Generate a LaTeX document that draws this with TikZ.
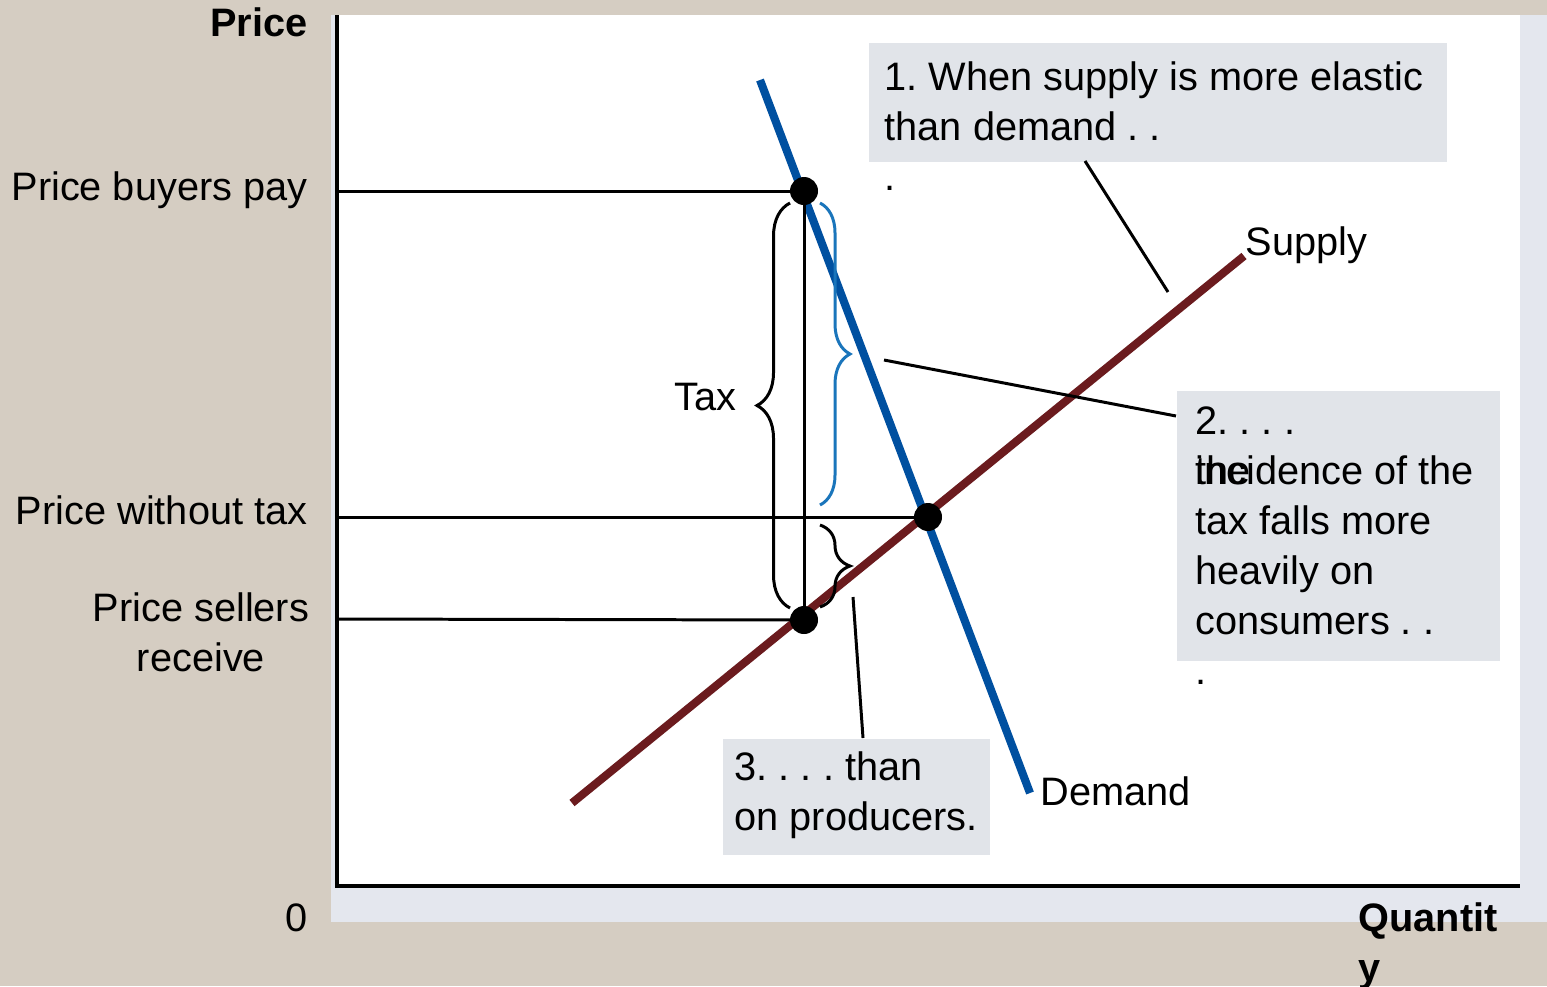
\documentclass[tikz,border=0pt]{standalone}
\usepackage{fontspec}
\setmainfont{Liberation Sans}
\usetikzlibrary{decorations.pathreplacing}
\definecolor{bgbeige}{HTML}{D5CDC2}
\definecolor{shadowgray}{HTML}{E4E7EE}
\definecolor{boxgray}{HTML}{E1E4E9}
\definecolor{demandblue}{HTML}{0050A0}
\definecolor{supplyred}{HTML}{6B1B1E}
\definecolor{braceblue}{HTML}{1A75BB}
\frenchspacing
\begin{document}
\begin{tikzpicture}[x=0.1mm, y=-0.1mm,
  lbl/.style={inner sep=0pt, font=\fontsize{11.3}{14.2}\selectfont},
  bold/.style={lbl, font=\fontsize{11.3}{14.2}\selectfont\bfseries},
  callbox/.style={fill=boxgray, inner sep=0pt, anchor=north west},
  dot/.style={circle, fill=black, inner sep=0pt, minimum size=2.8mm},
  guide/.style={line width=0.85pt},
  tie/.style={line width=0.85pt},
  curly/.style={decorate, decoration={brace, amplitude=3mm}, line width=0.85pt}]
\useasboundingbox[fill=bgbeige] (0,0) rectangle (1547,986);
\fill[shadowgray] (331,15) rectangle (1547,922);
\fill[white] (337,15) rectangle (1520,886);
\draw[line width=0.9pt] (337,15) -- (337,886) -- (1520,886);
% axis labels
\node[bold, anchor=base east] (pricelbl) at (308,36) {Price};
\node[lbl, anchor=base] (zero) at (297,931) {0};
\node[bold, anchor=base west, align=left] (qtylbl) at (1358,981) {Quantit\\y};
% callout boxes
\node[callbox, minimum width=57.8mm, minimum height=11.9mm] (box1) at (868,42) {};
\node[callbox, minimum width=32.3mm, minimum height=27mm] (box2) at (1176,390) {};
\node[callbox, minimum width=26.7mm, minimum height=11.6mm] (box3) at (722,738) {};
\node[lbl, anchor=base west, align=left] (note1) at (884,190) {1. When supply is more elastic\\than demand . .\\.};
\node[lbl, anchor=base west, align=left] (note2) at (1195,684) {2. . . .\\incidence of the\\tax falls more\\heavily on\\consumers . .\\.};
\node[lbl, anchor=base west] (note2b) at (1195,484) {the};
\node[lbl, anchor=base west, align=left] (note3) at (734,830) {3. . . . than\\on producers.};
% curves
\coordinate (dtop) at (760,80);
\coordinate (dbot) at (1030,793);
\coordinate (sbot) at (572,803);
\coordinate (stop) at (1244,256);
\draw[demandblue, line width=2.3pt] (dtop) -- (dbot);
\draw[supplyred, line width=2.3pt] (sbot) -- (stop);
\node[lbl, anchor=base west] (supplylbl) at (1245,255) {Supply};
\node[lbl, anchor=base west] (demandlbl) at (1040,805) {Demand};
% price levels
\node[dot] (buy) at (804,191) {};
\node[dot] (eq) at (928,517) {};
\node[dot] (sell) at (804,620) {};
\coordinate (pbuy) at (337,191);
\coordinate (peq) at (337,517);
\coordinate (psell) at (337,619);
\draw[guide] (pbuy) -- (buy.center);
\draw[guide] (peq) -- (eq.center);
\draw[guide] (psell) -- (sell.center);
\draw[guide] (buy.center) -- (sell.center);
\node[lbl, anchor=base east] (buylbl) at (308,200) {Price buyers pay};
\node[lbl, anchor=base east] (eqlbl) at (308,524) {Price without tax};
\node[lbl, anchor=base, align=center] (selllbl) at (201,671) {Price sellers\\receive};
% braces
\draw[curly, decoration={amplitude=3.3mm}] (790,608) -- (790,203);
\node[lbl, anchor=base east] (taxlbl) at (737,410) {Tax};
\draw[curly, braceblue] (820,203) -- (820,505);
\draw[curly] (820,525) -- (820,607);
% pointers
\coordinate (t1a) at (1085,161);
\coordinate (t1b) at (1168,292);
\coordinate (t2a) at (1176,416);
\coordinate (t2b) at (884,360);
\coordinate (t3a) at (863,738);
\coordinate (t3b) at (853,597);
\draw[tie] (t1a) -- (t1b);
\draw[tie] (t2a) -- (t2b);
\draw[tie] (t3a) -- (t3b);
\end{tikzpicture}
\end{document}
